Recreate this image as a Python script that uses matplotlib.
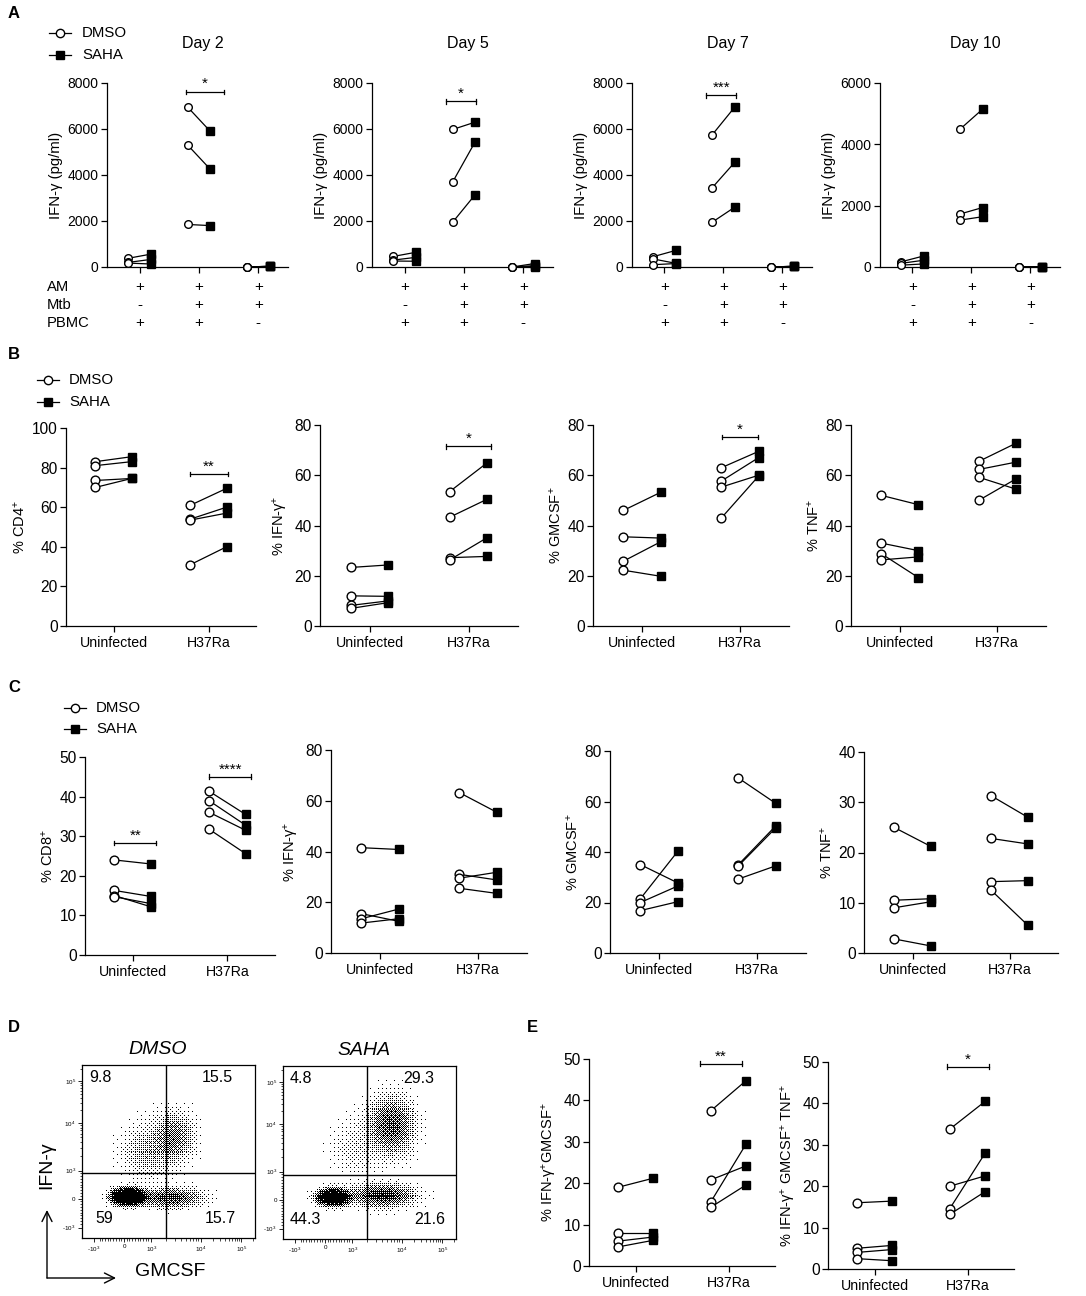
import numpy as np
import matplotlib
matplotlib.use('Agg')
import matplotlib.pyplot as plt
from matplotlib.lines import Line2D
from matplotlib.patches import FancyArrowPatch

plt.rcParams['font.family'] = ['Liberation Sans', 'DejaVu Sans']
plt.rcParams['mathtext.fontset'] = 'custom'
plt.rcParams['mathtext.rm'] = 'Liberation Sans'
plt.rcParams['mathtext.it'] = 'Liberation Sans:italic'
plt.rcParams['mathtext.bf'] = 'Liberation Sans:bold'

# ---------------- DATA ----------------
# Panel A: IFN-gamma (pg/ml), 3 donors, groups = (AM+PBMC, AM+Mtb+PBMC, AM+Mtb)
a_days = ['Day 2', 'Day 5', 'Day 7', 'Day 10']
a_ymax = [8000, 8000, 8000, 6000]
a_rows = ['AM', 'Mtb', 'PBMC']
a_signs = [['+', '+', '+'], ['-', '+', '+'], ['+', '+', '-']]
a_day2_dmso = [[380, 200, 170], [6950, 5300, 1850], [0, 0, 0]]
a_day2_saha = [[560, 330, 130], [5900, 4250, 1800], [30, 30, 30]]
a_day5_dmso = [[460, 300, 260], [5980, 3700, 1950], [0, 0, 0]]
a_day5_saha = [[640, 420, 250], [6300, 5450, 3150], [150, 60, 20]]
a_day7_dmso = [[450, 350, 100], [5750, 3450, 1950], [0, 0, 0]]
a_day7_saha = [[720, 160, 150], [6950, 4550, 2600], [30, 30, 30]]
a_day10_dmso = [[170, 120, 60], [4500, 1730, 1530], [0, 0, 0]]
a_day10_saha = [[360, 220, 100], [5150, 1940, 1640], [10, 10, 10]]
a_sig = [[(1, -0.22, 0.42, 7620, '*')], [(1, -0.30, 0.20, 7200, '*')],
         [(1, -0.30, 0.22, 7460, '***')], []]

# Panels B, C, E: 4 donors, groups = Uninfected, H37Ra
categories = ['Uninfected', 'H37Ra']
b_cd4_dmso = [[83, 81, 73.5, 70], [61, 54, 53.5, 31]]
b_cd4_saha = [[85.5, 83, 74.5, 74.5], [69.5, 60, 57, 40]]
b_ifng_dmso = [[23.3, 12, 8.2, 7], [53.5, 43.3, 27.2, 26.3]]
b_ifng_saha = [[24.3, 11.8, 10, 9.3], [65, 50.5, 27.7, 35.2]]
b_gmcsf_dmso = [[46, 35.5, 25.8, 22.2], [63, 57.7, 55.3, 43]]
b_gmcsf_saha = [[53.2, 35, 33.5, 19.8], [69.5, 67, 60, 59.7]]
b_tnf_dmso = [[52, 33, 28.8, 26.3], [65.5, 62.3, 59.2, 50]]
b_tnf_saha = [[48.3, 30, 19.3, 27.5], [72.7, 65.2, 54.5, 58.5]]

c_cd8_dmso = [[24, 16.3, 15, 14.7], [41.3, 38.9, 36, 31.7]]
c_cd8_saha = [[23, 14.8, 12.2, 13], [35.5, 32.8, 31.5, 25.6]]
c_ifng_dmso = [[41.5, 15.5, 13.5, 11.8], [63.2, 31, 29.5, 25.5]]
c_ifng_saha = [[40.8, 12.5, 17.3, 13.5], [55.5, 28.8, 31.8, 23.5]]
c_gmcsf_dmso = [[35, 21.5, 20, 16.8], [69.3, 35, 34.5, 29.3]]
c_gmcsf_saha = [[27.8, 40.2, 26.5, 20.3], [59.3, 50.3, 49.5, 34.5]]
c_tnf_dmso = [[25, 10.5, 9, 2.8], [31.3, 22.8, 14.2, 12.5]]
c_tnf_saha = [[21.2, 10.8, 10.2, 1.4], [27, 21.7, 14.4, 5.5]]

e_dp_dmso = [[19, 8, 6, 4.6], [37.5, 20.8, 15.5, 14.2]]
e_dp_saha = [[21.2, 8, 7, 6.2], [44.8, 24.2, 29.5, 19.6]]
e_tp_dmso = [[16, 5, 4, 2.5], [33.8, 20, 14.6, 13.2]]
e_tp_saha = [[16.4, 5.7, 4.7, 2], [40.5, 22.5, 28, 18.7]]

# Panel D: flow cytometry populations (axis-fraction coordinates) and quadrant %
flow_titles = ['DMSO', 'SAHA']
flow_pct_dmso = [9.8, 15.5, 59, 15.7]     # UL, UR, LL, LR
flow_pct_saha = [4.8, 29.3, 44.3, 21.6]
flow_gate_x = [0.485, 0.486]
flow_gate_y = [0.376, 0.370]
flow_dmso_cx = [0.27, 0.51, 0.53, 0.38]
flow_dmso_cy = [0.24, 0.235, 0.58, 0.50]
flow_dmso_sx = [0.045, 0.095, 0.065, 0.08]
flow_dmso_sy = [0.022, 0.03, 0.08, 0.09]
flow_dmso_w = [59, 15.7, 15.5, 9.8]
flow_saha_cx = [0.29, 0.57, 0.62, 0.42]
flow_saha_cy = [0.24, 0.25, 0.65, 0.52]
flow_saha_sx = [0.045, 0.095, 0.07, 0.08]
flow_saha_sy = [0.024, 0.035, 0.09, 0.10]
flow_saha_w = [44.3, 21.6, 29.3, 4.8]
flow_tick_labels = ['-10$^3$', '0', '10$^3$', '10$^4$', '10$^5$']

# ---------------- FIGURE ----------------
W, H = 1086, 1296
fig = plt.figure(figsize=(W / 100, H / 100), dpi=100)


def add_ax(l, t, r, b):
    return fig.add_axes([l / W, 1 - b / H, (r - l) / W, (b - t) / H])


def fx(x):
    return x / W


def fy(y):
    return 1 - y / H


OFF = 0.19


def paired(ax, dmso, saha, ms_o, ms_s):
    for g, (dv, sv) in enumerate(zip(dmso, saha)):
        for d, s in zip(dv, sv):
            ax.plot([g - OFF, g + OFF], [d, s], color='k', lw=0.9, zorder=2, clip_on=False)
        ax.plot([g - OFF] * len(dv), dv, 'o', mfc='white', mec='k', mew=1.0, ms=ms_o,
                zorder=3, clip_on=False, ls='none')
        ax.plot([g + OFF] * len(sv), sv, 's', mfc='k', mec='k', ms=ms_s,
                zorder=4, clip_on=False, ls='none')


def style(ax, ymax, step, fs):
    ax.spines[['top', 'right']].set_visible(False)
    ax.spines[['left', 'bottom']].set_linewidth(0.9)
    ax.set_ylim(0, ymax)
    ax.set_yticks(np.arange(0, ymax + 1, step))
    ax.tick_params(length=4.5, width=0.9, labelsize=fs, pad=1.5)


def sig(ax, items):
    for g, x0, x1, y, lab in items:
        ax.plot([g + x0, g + x1], [y, y], color='k', lw=0.9, clip_on=False)
        h = ax.get_ylim()[1] * 0.012
        for xx in (g + x0, g + x1):
            ax.plot([xx, xx], [y - h, y + h], color='k', lw=0.9, clip_on=False)
        ax.annotate(lab, xy=((g + (x0 + x1) / 2), y), xytext=(0, 2.5),
                    textcoords='offset points', ha='center', va='baseline', fontsize=11)


def legend(xm, y1, y2, tx, fs=10.8):
    for y, mk, fc in [(y1, 'o', 'white'), (y2, 's', 'k')]:
        fig.add_artist(Line2D([fx(xm - 11), fx(xm + 11)], [fy(y), fy(y)], color='k', lw=0.9))
        fig.add_artist(Line2D([fx(xm)], [fy(y)], marker=mk, mfc=fc, mec='k', mew=1.0,
                              ms=6 if mk == 'o' else 5.5, ls='none'))
    fig.text(fx(tx), fy(y1), 'DMSO', va='center', ha='left', fontsize=fs)
    fig.text(fx(tx), fy(y2), 'SAHA', va='center', ha='left', fontsize=fs)


def panel_letter(x, y, s):
    fig.text(fx(x), fy(y), s, fontsize=12, fontweight='bold', va='center', ha='left')


# ---------------- Panel A ----------------
panel_letter(8, 13, 'A')
legend(60, 33, 55, 82)
a_boxes = [(107, 83, 288, 267), (372, 83, 553, 267), (632, 83, 812, 267), (880, 83, 1060, 267)]
a_dmso = [a_day2_dmso, a_day5_dmso, a_day7_dmso, a_day10_dmso]
a_saha = [a_day2_saha, a_day5_saha, a_day7_saha, a_day10_saha]
for i in range(4):
    ax = add_ax(*a_boxes[i])
    style(ax, a_ymax[i], 2000, 10)
    ax.set_xlim(-0.55, 2.5)
    ax.set_xticks([0, 1, 2])
    ax.set_xticklabels([])
    paired(ax, a_dmso[i], a_saha[i], 5.5, 5.2)
    sig(ax, a_sig[i])
    ax.set_ylabel('IFN-γ (pg/ml)', fontsize=10.7, labelpad=3)
    ax.text(0.53, 1.217, a_days[i], transform=ax.transAxes, ha='center', va='center', fontsize=11.5)
    for r in range(3):
        for g in range(3):
            ax.annotate(a_signs[r][g], xy=(g, 0), xycoords=('data', 'axes fraction'),
                        xytext=(0, -14.4 - 13.0 * r), textcoords='offset points',
                        ha='center', va='center', fontsize=11)
for r in range(3):
    fig.text(fx(47), fy(287 + 18 * r), a_rows[r], fontsize=10.6, va='center', ha='left')

# ---------------- Panel B / C / E helper ----------------


def cat_panel(box, dmso, saha, ymax, step, ylabel, sigs, ms_o=6.3, ms_s=6.0):
    ax = add_ax(*box)
    style(ax, ymax, step, 11.2)
    ax.set_xlim(-0.5, 1.5)
    ax.set_xticks([0, 1])
    ax.set_xticklabels(categories, fontsize=10.2)
    ax.tick_params(axis='x', pad=3)
    paired(ax, dmso, saha, ms_o, ms_s)
    sig(ax, sigs)
    ax.set_ylabel(ylabel, fontsize=10.5, labelpad=3)
    return ax


# ---------------- Panel B ----------------
panel_letter(8, 355, 'B')
legend(48, 380, 402, 69)
cat_panel((66, 428, 256, 626), b_cd4_dmso, b_cd4_saha, 100, 20, '% CD4$^{+}$',
          [(1, -0.2, 0.2, 76.8, '**')])
cat_panel((320, 425, 518, 626), b_ifng_dmso, b_ifng_saha, 80, 20, '% IFN-γ$^{+}$',
          [(1, -0.23, 0.23, 71.6, '*')])
cat_panel((593, 425, 789, 626), b_gmcsf_dmso, b_gmcsf_saha, 80, 20, '% GMCSF$^{+}$',
          [(1, -0.18, 0.18, 75.2, '*')])
cat_panel((851, 425, 1046, 626), b_tnf_dmso, b_tnf_saha, 80, 20, '% TNF$^{+}$', [])

# ---------------- Panel C ----------------
panel_letter(8, 687, 'C')
legend(75, 708, 729, 96)
cat_panel((85, 757, 275, 955), c_cd8_dmso, c_cd8_saha, 50, 10, '% CD8$^{+}$',
          [(0, -0.19, 0.25, 28.3, '**'), (1, -0.19, 0.25, 45, '****')])
cat_panel((331, 750, 527, 953), c_ifng_dmso, c_ifng_saha, 80, 20, '% IFN-γ$^{+}$', [])
cat_panel((610, 751, 806, 953), c_gmcsf_dmso, c_gmcsf_saha, 80, 20, '% GMCSF$^{+}$', [])
cat_panel((864, 752, 1058, 953), c_tnf_dmso, c_tnf_saha, 40, 10, '% TNF$^{+}$', [])

# ---------------- Panel E ----------------
panel_letter(527, 1027, 'E')
cat_panel((589, 1059, 775, 1266), e_dp_dmso, e_dp_saha, 50, 10, '% IFN-γ$^{+}$GMCSF$^{+}$',
          [(1, -0.31, 0.15, 48.8, '**')])
cat_panel((828, 1062, 1014, 1269), e_tp_dmso, e_tp_saha, 50, 10,
          '% IFN-γ$^{+}$ GMCSF$^{+}$ TNF$^{+}$', [(1, -0.22, 0.23, 48.8, '*')])

# ---------------- Panel D ----------------
panel_letter(8, 1027, 'D')
flow_boxes = [(82, 1065, 255, 1238), (283, 1066, 456, 1239)]
flow_pops = [(flow_dmso_cx, flow_dmso_cy, flow_dmso_sx, flow_dmso_sy, flow_dmso_w),
             (flow_saha_cx, flow_saha_cy, flow_saha_sx, flow_saha_sy, flow_saha_w)]
flow_pcts = [flow_pct_dmso, flow_pct_saha]
xt_pos = [0.07, 0.243, 0.40, 0.685, 0.92]
yt_pos = [0.06, 0.228, 0.39, 0.665, 0.905]


def minor_positions(pos):
    out = []
    lin = (pos[2] - pos[1]) / 10.0
    for k in range(1, 10):
        out += [pos[1] + k * lin, pos[1] - k * lin]
    for a, b in [(pos[2], pos[3]), (pos[3], pos[4])]:
        for m in range(2, 10):
            out.append(a + (b - a) * np.log10(m))
    for m in range(2, 4):
        out.append(pos[4] + (pos[4] - pos[3]) * np.log10(m))
    return [p for p in out if 0 < p < 1]


bayer = np.array([[0, 32, 8, 40, 2, 34, 10, 42], [48, 16, 56, 24, 50, 18, 58, 26],
                  [12, 44, 4, 36, 14, 46, 6, 38], [60, 28, 52, 20, 62, 30, 54, 22],
                  [3, 35, 11, 43, 1, 33, 9, 41], [51, 19, 59, 27, 49, 17, 57, 25],
                  [15, 47, 7, 39, 13, 45, 5, 37], [63, 31, 55, 23, 61, 29, 53, 21]]) / 64.0 + 1 / 128

N = 176
g = (np.arange(N) + 0.5) / N
GX, GY = np.meshgrid(g, g)
thr = np.tile(bayer, (N // 8, N // 8))

for i in range(2):
    ax = add_ax(*flow_boxes[i])
    cx, cy, sx, sy, w = flow_pops[i]
    dens = np.zeros_like(GX)
    for k in range(len(w)):
        dens += w[k] / (sx[k] * sy[k]) * np.exp(-0.5 * ((GX - cx[k]) / sx[k]) ** 2
                                                - 0.5 * ((GY - cy[k]) / sy[k]) ** 2)
    level = 1 - np.exp(-dens / 4000.0)
    img = (level > thr).astype(float)
    ax.imshow(img, cmap='Greys', vmin=0, vmax=1, extent=(0, 1, 0, 1), origin='lower',
              interpolation='nearest', aspect='auto')
    ax.axvline(flow_gate_x[i], color='k', lw=1.0)
    ax.axhline(flow_gate_y[i], color='k', lw=1.0)
    ax.set_xlim(0, 1)
    ax.set_ylim(0, 1)
    for sp in ax.spines.values():
        sp.set_linewidth(0.9)
    ax.set_xticks(xt_pos)
    ax.set_xticklabels(flow_tick_labels)
    ax.set_yticks(yt_pos)
    ax.set_yticklabels(flow_tick_labels)
    ax.set_xticks(minor_positions(xt_pos), minor=True)
    ax.set_yticks(minor_positions(yt_pos), minor=True)
    ax.tick_params(which='major', length=3, width=0.6, labelsize=4.5, pad=1.5)
    ax.tick_params(which='minor', length=1.8, width=0.5)
    p = flow_pcts[i]
    ax.text(0.105, 0.93, f'{p[0]:g}', transform=ax.transAxes, ha='center', va='center', fontsize=11.5)
    ax.text(0.785, 0.93, f'{p[1]:g}', transform=ax.transAxes, ha='center', va='center', fontsize=11.5)
    ax.text(0.13, 0.113, f'{p[2]:g}', transform=ax.transAxes, ha='center', va='center', fontsize=11.5)
    ax.text(0.80 if i == 0 else 0.85, 0.113, f'{p[3]:g}', transform=ax.transAxes,
            ha='center', va='center', fontsize=11.5)
    ax.text(0.44 if i == 0 else 0.47, 1.09, flow_titles[i], transform=ax.transAxes,
            ha='center', va='center', fontsize=14, style='italic')

fig.add_artist(FancyArrowPatch((fx(47), fy(1278)), (fx(47), fy(1210)), transform=fig.transFigure,
                               arrowstyle='->,head_length=0.6,head_width=0.3', mutation_scale=12,
                               lw=1.0, color='k', shrinkA=0, shrinkB=0))
fig.add_artist(FancyArrowPatch((fx(47), fy(1278)), (fx(116), fy(1278)), transform=fig.transFigure,
                               arrowstyle='->,head_length=0.6,head_width=0.3', mutation_scale=12,
                               lw=1.0, color='k', shrinkA=0, shrinkB=0))
fig.text(fx(47), fy(1165), 'IFN-γ', rotation=90, ha='center', va='center', fontsize=14)
fig.text(fx(170), fy(1272), 'GMCSF', ha='center', va='center', fontsize=14)

fig.savefig('out.png', dpi=100, facecolor='white')
